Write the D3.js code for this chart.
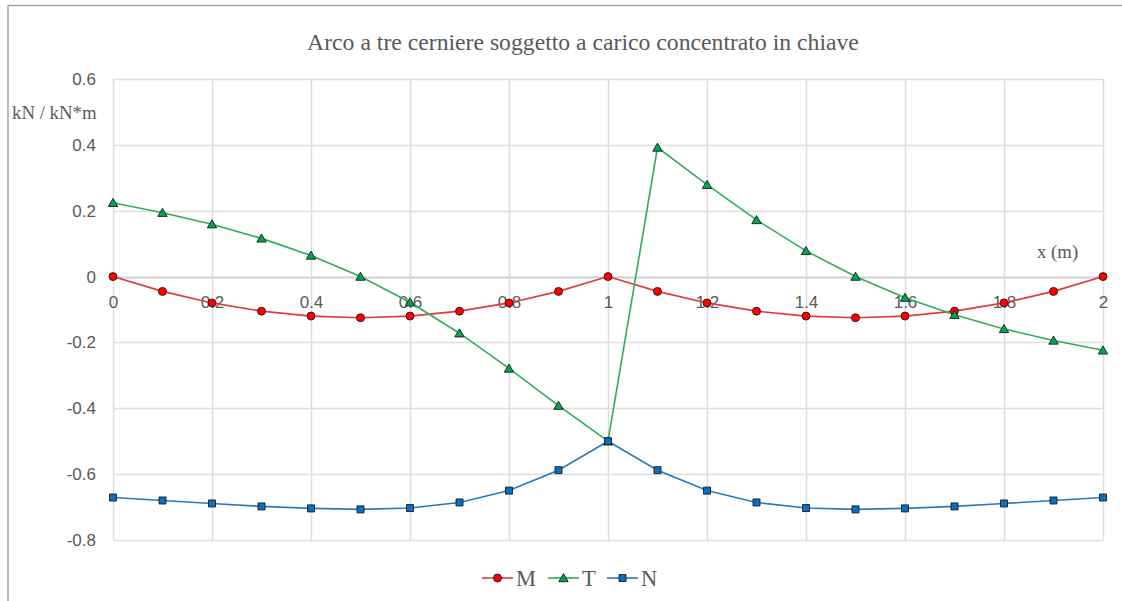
<!DOCTYPE html>
<html>
<head>
<meta charset="utf-8">
<script src="https://cdn.jsdelivr.net/npm/d3@7"></script>
<style>
  html, body { margin: 0; padding: 0; background: #fff; }
  svg { display: block; }
</style>
</head>
<body>
<svg id="chart" width="1122" height="601"></svg>
<script>
// Stations along the arch span (m)
const xs = [0, 0.1, 0.2, 0.3, 0.4, 0.5, 0.6, 0.7, 0.8, 0.9, 1.0,
            1.1, 1.2, 1.3, 1.4, 1.5, 1.6, 1.7, 1.8, 1.9, 2.0];

// Bending moment M (kN*m)
const seriesM = [0, -0.045, -0.08, -0.105, -0.12, -0.125, -0.12, -0.105, -0.08, -0.045, 0,
                 -0.045, -0.08, -0.105, -0.12, -0.125, -0.12, -0.105, -0.08, -0.045, 0];

// Shear T (kN)
const seriesT = [0.224, 0.194, 0.159, 0.116, 0.064, 0, -0.078, -0.172, -0.279, -0.392, -0.5,
                 0.392, 0.279, 0.172, 0.078, 0, -0.064, -0.116, -0.159, -0.194, -0.224];

// Axial force N (kN)
const seriesN = [-0.671, -0.680, -0.689, -0.698, -0.704, -0.707, -0.703, -0.686, -0.650, -0.588, -0.5,
                 -0.588, -0.650, -0.686, -0.703, -0.707, -0.704, -0.698, -0.689, -0.680, -0.671];

const xTicks = [0, 0.2, 0.4, 0.6, 0.8, 1, 1.2, 1.4, 1.6, 1.8, 2];
const yTicks = [0.6, 0.4, 0.2, 0, -0.2, -0.4, -0.6, -0.8];

const titleText = "Arco a tre cerniere soggetto a carico concentrato in chiave";
const yAxisTitle = "kN / kN*m";
const xAxisTitle = "x (m)";

const series = [
  { name: "M", values: seriesM, line: "#E03A3A", fill: "#FF0000", symbol: d3.symbolCircle, size: 50 },
  { name: "T", values: seriesT, line: "#2EAD5E", fill: "#00A651", symbol: d3.symbolTriangle, size: 38 },
  { name: "N", values: seriesN, line: "#2E78B8", fill: "#0A6FC2", symbol: d3.symbolSquare, size: 49 }
];

const svg = d3.select("#chart");
const W = 1122, H = 601;

// Chart frame (only top and left edges fall inside the view)
svg.append("line").attr("x1", 8).attr("y1", 5.5).attr("x2", W).attr("y2", 5.5)
  .attr("stroke", "#A6A6A6").attr("stroke-width", 1.5);
svg.append("line").attr("x1", 8).attr("y1", 5).attr("x2", 8).attr("y2", H)
  .attr("stroke", "#A6A6A6").attr("stroke-width", 1.5);

const x = d3.scaleLinear().domain([0, 2]).range([113, 1103]);
const y = d3.scaleLinear().domain([-0.8, 0.6]).range([540, 79]);

const labelFont = "'Liberation Sans', Arial, sans-serif";
const serifFont = "'Liberation Serif', 'Times New Roman', serif";
const fmt = d => String(+(+d).toFixed(1));

// Grid
const grid = svg.append("g");
grid.selectAll("line.h").data(yTicks).join("line")
  .attr("x1", x(0)).attr("x2", x(2))
  .attr("y1", d => Math.round(y(d)) + 0.5).attr("y2", d => Math.round(y(d)) + 0.5)
  .attr("stroke", d => d === 0 ? "#CFCFCF" : "#DEDEDE").attr("stroke-width", d => d === 0 ? 2 : 1.5);
grid.selectAll("line.v").data(xTicks).join("line")
  .attr("y1", y(0.6)).attr("y2", y(-0.8))
  .attr("x1", d => Math.round(x(d)) + 0.5).attr("x2", d => Math.round(x(d)) + 0.5)
  .attr("stroke", "#DEDEDE").attr("stroke-width", 1.5);

// Y axis labels
const yAxis = d3.axisLeft(y).tickValues(yTicks).tickSize(0).tickPadding(17).tickFormat(fmt);
const gy = svg.append("g").attr("transform", `translate(${x(0)},0)`).call(yAxis);
gy.select(".domain").remove();
gy.selectAll("text").attr("fill", "#595959").style("font-family", labelFont).style("font-size", "17px");

// X axis labels sit along the zero line
const xAxis = d3.axisBottom(x).tickValues(xTicks).tickSize(0).tickPadding(19).tickFormat(fmt);
const gx = svg.append("g").attr("transform", `translate(0,${y(0)})`).call(xAxis);
gx.select(".domain").remove();
gx.selectAll("text").attr("fill", "#595959").style("font-family", labelFont).style("font-size", "17px");

// Series lines and markers
const lineGen = d3.line().x((d, i) => x(xs[i])).y(d => y(d));
series.forEach(s => {
  svg.append("path").datum(s.values)
    .attr("d", lineGen).attr("fill", "none")
    .attr("stroke", s.line).attr("stroke-width", 1.6);
});
series.forEach(s => {
  svg.append("g").selectAll("path").data(s.values).join("path")
    .attr("d", d3.symbol().type(s.symbol).size(s.size))
    .attr("transform", (d, i) => `translate(${x(xs[i])},${y(d) + (s.name === "T" ? 1 : 0)})`)
    .attr("fill", s.fill).attr("stroke", "#1a1a1a").attr("stroke-width", 0.9);
});

// Title and axis titles
svg.append("text").attr("x", 583).attr("y", 50).attr("text-anchor", "middle")
  .style("font-family", serifFont).style("font-size", "23.7px").attr("fill", "#595959")
  .text(titleText);
svg.append("text").attr("x", 12).attr("y", 119)
  .style("font-family", serifFont).style("font-size", "18.8px").attr("fill", "#595959")
  .text(yAxisTitle);
svg.append("text").attr("x", 1037).attr("y", 258)
  .style("font-family", serifFont).style("font-size", "18.8px").attr("fill", "#595959")
  .text(xAxisTitle);

// Legend
const legendItems = [
  { s: series[0], x0: 482 },
  { s: series[1], x0: 548 },
  { s: series[2], x0: 607 }
];
const ly = 578;
const lg = svg.append("g");
legendItems.forEach(it => {
  lg.append("line").attr("x1", it.x0).attr("x2", it.x0 + 31).attr("y1", ly).attr("y2", ly)
    .attr("stroke", it.s.line).attr("stroke-width", 1.6);
  lg.append("path").attr("d", d3.symbol().type(it.s.symbol).size(it.s.size)())
    .attr("transform", `translate(${it.x0 + 15.5},${ly + (it.s.name === "T" ? 1 : 0)})`)
    .attr("fill", it.s.fill).attr("stroke", "#1a1a1a").attr("stroke-width", 0.9);
  lg.append("text").attr("x", it.x0 + 34).attr("y", ly + 8)
    .style("font-family", serifFont).style("font-size", "22.5px").attr("fill", "#595959")
    .text(it.s.name);
});
</script>
</body>
</html>
